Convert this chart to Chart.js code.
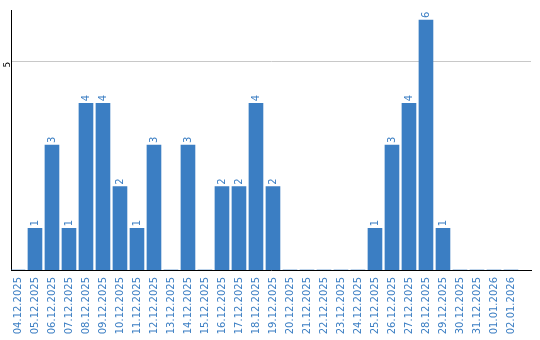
<!DOCTYPE html>
<html>
<head>
<meta charset="utf-8">
<script src="https://cdn.jsdelivr.net/npm/chart.js@4"></script>
<style>
  body { margin: 0; background: #fff; }
  #wrap { width: 540px; height: 340px; }
</style>
</head>
<body>
<div id="wrap"><canvas id="myChart"></canvas></div>
<script>
const dates = ['04.12.2025', '05.12.2025', '06.12.2025', '07.12.2025', '08.12.2025', '09.12.2025',
  '10.12.2025', '11.12.2025', '12.12.2025', '13.12.2025', '14.12.2025', '15.12.2025',
  '16.12.2025', '17.12.2025', '18.12.2025', '19.12.2025', '20.12.2025', '21.12.2025',
  '22.12.2025', '23.12.2025', '24.12.2025', '25.12.2025', '26.12.2025', '27.12.2025',
  '28.12.2025', '29.12.2025', '30.12.2025', '31.12.2025', '01.01.2026', '02.01.2026'];
const counts = [0, 1, 3, 1, 4, 4, 2, 1, 3, 0, 3, 0, 2, 2, 4, 2, 0, 0, 0, 0, 0, 1, 3, 4, 6, 1, 0, 0, 0, 0];
const yTicks = [5];

const blue = '#3b7ec3';

// numbers written sideways above each bar
const valueLabels = {
  id: 'valueLabels',
  afterDatasetsDraw(chart) {
    const ctx = chart.ctx;
    const meta = chart.getDatasetMeta(0);
    ctx.save();
    ctx.fillStyle = blue;
    ctx.font = '10px "DejaVu Sans"';
    ctx.textAlign = 'left';
    ctx.textBaseline = 'middle';
    meta.data.forEach((bar, i) => {
      if (!counts[i]) return;
      ctx.save();
      ctx.translate(bar.x, bar.y - 2);
      ctx.rotate(-Math.PI / 2);
      ctx.fillText(String(counts[i]), 0, 0);
      ctx.restore();
    });
    ctx.restore();
  }
};

const xMin = -0.41;

const ctx = document.getElementById('myChart');
new Chart(ctx, {
  type: 'bar',
  data: {
    datasets: [{
      data: counts.map((v, i) => ({ x: i, y: v })),
      backgroundColor: blue,
      barThickness: 14
    }]
  },
  plugins: [valueLabels],
  options: {
    responsive: true,
    maintainAspectRatio: false,
    animation: false,
    layout: { padding: { top: 10, right: 9, left: 0, bottom: 0 } },
    plugins: { legend: { display: false }, tooltip: { enabled: false } },
    scales: {
      x: {
        type: 'linear',
        offset: false,
        min: xMin,
        max: xMin + 520 / 17,
        afterBuildTicks: axis => { axis.ticks = dates.map((d, i) => ({ value: i })); },
        afterFit: axis => { axis.height = 70; },
        grid: { display: false, drawTicks: false },
        border: { display: true, color: '#000', width: 1 },
        ticks: {
          autoSkip: false,
          minRotation: 90,
          maxRotation: 90,
          padding: 7,
          color: blue,
          font: { family: 'DejaVu Sans', size: 10 },
          callback: v => dates[v]
        }
      },
      y: {
        min: 0,
        max: 6.24,
        afterBuildTicks: axis => { axis.ticks = yTicks.map(v => ({ value: v })); },
        afterFit: axis => { axis.width = 11; },
        grid: { color: '#c8c8c8', drawTicks: false },
        border: { display: true, color: '#000', width: 1 },
        ticks: {
          minRotation: 90,
          maxRotation: 90,
          padding: 3,
          color: '#000',
          font: { family: 'DejaVu Sans', size: 9 }
        }
      }
    }
  }
});
</script>
</body>
</html>
